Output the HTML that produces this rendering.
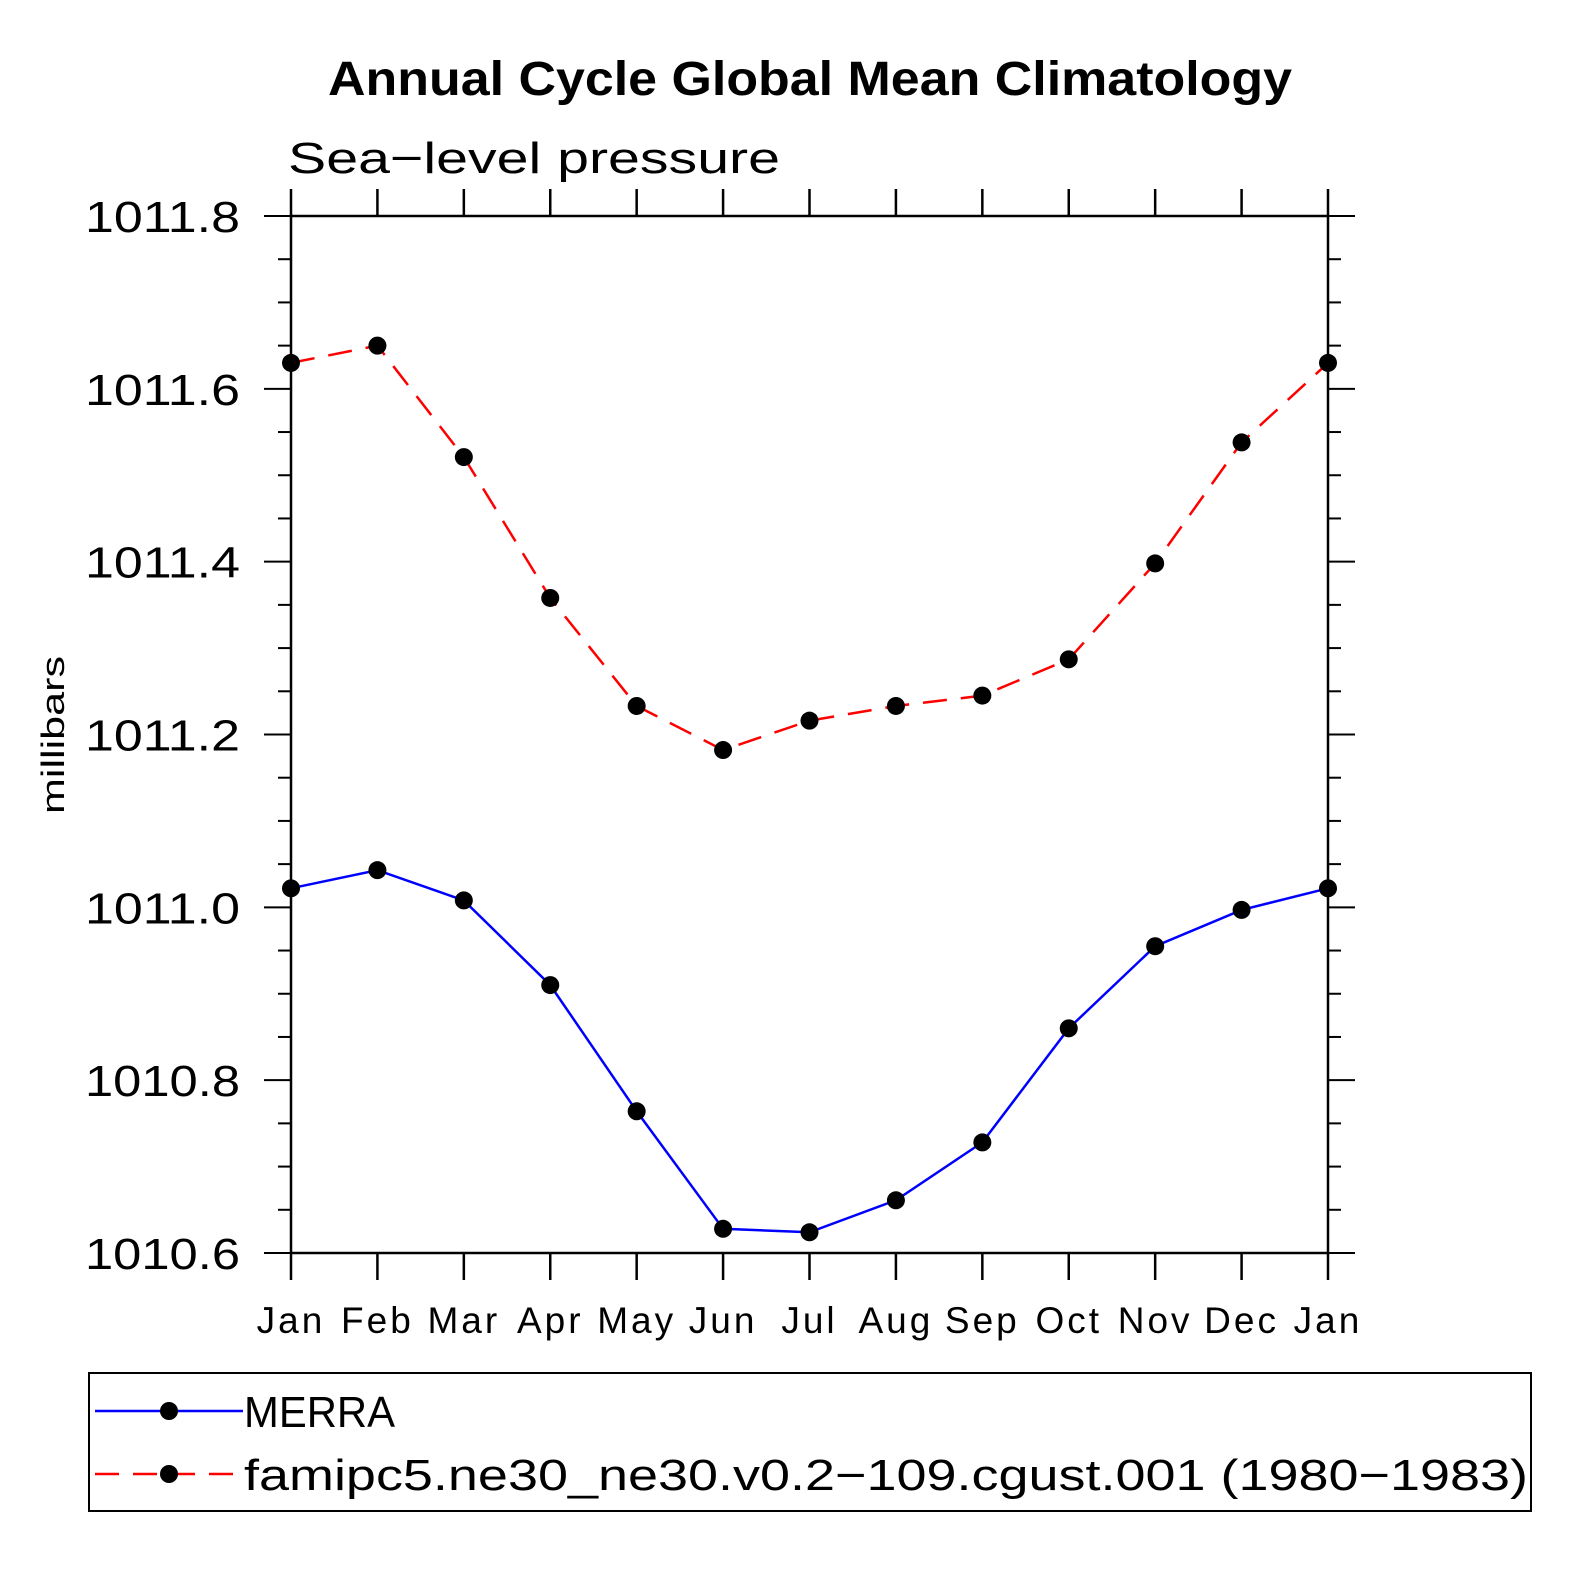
<!DOCTYPE html>
<html><head><meta charset="utf-8"><style>
body{margin:0;background:#fff}
svg text{font-family:"Liberation Sans","DejaVu Sans",sans-serif}
</style></head><body>
<svg id="chart" width="1574" height="1574" xmlns="http://www.w3.org/2000/svg">
<text x="328" y="95" textLength="964" lengthAdjust="spacingAndGlyphs" font-size="48" font-weight="bold">Annual Cycle Global Mean Climatology</text>
<text x="288" y="173" textLength="492" lengthAdjust="spacingAndGlyphs" font-size="44" fill="#000">Sea−level pressure</text>
<text transform="translate(64,735) rotate(-90)" text-anchor="middle" font-size="32" textLength="158" lengthAdjust="spacingAndGlyphs">millibars</text>
<g id="axes"></g>
<g id="series"></g>
<rect x="89" y="1373" width="1442" height="138" fill="none" stroke="#000" stroke-width="2"/>
<g>
<line x1="95" y1="1411" x2="243" y2="1411" stroke="#00f" stroke-width="2.5"/>
<circle cx="169" cy="1411" r="9" fill="#000"/>
<text x="244" y="1427" font-size="44" textLength="151" lengthAdjust="spacingAndGlyphs">MERRA</text></g>
<g>
<line x1="95" y1="1474" x2="243" y2="1474" stroke="#f00" stroke-width="2.5" stroke-dasharray="24,14"/>
<circle cx="169" cy="1474" r="9" fill="#000"/>
<text x="244" y="1490" font-size="44" textLength="1284" lengthAdjust="spacingAndGlyphs">famipc5.ne30_ne30.v0.2−109.cgust.001 (1980−1983)</text></g>
</svg>
<script>
const months=["Jan","Feb","Mar","Apr","May","Jun","Jul","Aug","Sep","Oct","Nov","Dec","Jan"];
const yTicks=["1010.6","1010.8","1011.0","1011.2","1011.4","1011.6","1011.8"];
const merra=[1011.022,1011.043,1011.008,1010.910,1010.764,1010.628,1010.624,1010.661,1010.728,1010.860,1010.955,1010.997,1011.022];
const model=[1011.630,1011.650,1011.521,1011.358,1011.233,1011.182,1011.216,1011.233,1011.245,1011.287,1011.398,1011.538,1011.630];
const L=291,R=1328,T=216,B=1253,ymin=1010.6,ymax=1011.8;
const xs=i=>L+(R-L)*i/(months.length-1);
const ys=v=>B-(v-ymin)/(ymax-ymin)*(B-T);
const NS="http://www.w3.org/2000/svg";
function mk(tag,attrs,parent){const e=document.createElementNS(NS,tag);for(const k in attrs)e.setAttribute(k,attrs[k]);parent.appendChild(e);return e;}
const ax=document.getElementById('axes');
const frame=mk('rect',{x:L,y:T,width:R-L,height:B-T,fill:'none',stroke:'#000','stroke-width':2.5},ax);


months.forEach((m,i)=>{const x=xs(i);
mk('line',{x1:x,y1:B,x2:x,y2:B+27,stroke:'#000','stroke-width':2.5},ax);
mk('line',{x1:x,y1:T,x2:x,y2:T-27,stroke:'#000','stroke-width':2.5},ax);
const t=mk('text',{x:x,y:B+80,'text-anchor':'middle','font-size':37,'letter-spacing':3},ax);t.textContent=m;

});
for(let v=ymin;v<=ymax+1e-9;v+=0.05){const y=ys(v);const major=Math.abs((v-ymin)/0.2-Math.round((v-ymin)/0.2))<1e-6;const len=major?27:13;
mk('line',{x1:L-len,y1:y,x2:L,y2:y,stroke:'#000','stroke-width':2},ax);
mk('line',{x1:R,y1:y,x2:R+len,y2:y,stroke:'#000','stroke-width':2},ax);}
yTicks.forEach(s=>{const t=mk('text',{x:85,y:ys(parseFloat(s))+16,'font-size':44,textLength:155,lengthAdjust:'spacingAndGlyphs'},ax);t.textContent=s;

});
const sg=document.getElementById('series');
function draw(vals,color,dash,name){const p=mk('polyline',{points:vals.map((v,i)=>xs(i)+','+ys(v)).join(' '),fill:'none',stroke:color,'stroke-width':2.5,'stroke-dasharray':dash},sg);


vals.forEach((v,i)=>{const c=mk('circle',{cx:xs(i),cy:ys(v),r:9,fill:'#000'},sg);

});}
draw(model,'#f00','24,14','model');
draw(merra,'#00f','none','merra');
</script>
</body></html>
